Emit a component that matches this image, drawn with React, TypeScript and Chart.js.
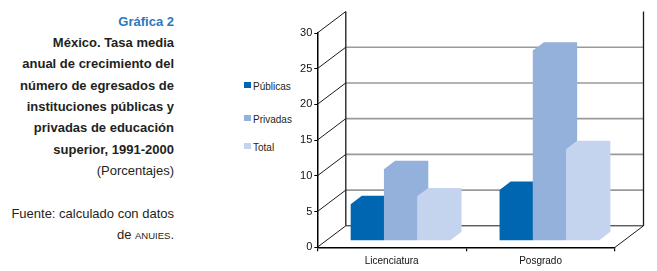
import React, { useEffect, useRef } from 'react';
import { Chart, registerables } from 'chart.js';

Chart.register(...registerables);

// ---- data ----
const categories = ['Licenciatura', 'Posgrado'];
const seriesNames = ['Públicas', 'Privadas', 'Total'];
const publicas = [5.1, 7.1];
const privadas = [10.0, 26.6];
const total = [6.2, 12.8];
const seriesColors = ['#0066B2', '#94B1DB', '#C5D4EE'];
const yMin = 0;
const yMax = 30;
const yStep = 5;

const titleLabel = 'Gráfica 2';
const titleLines = [
  'México. Tasa media',
  'anual de crecimiento del',
  'número de egresados de',
  'instituciones públicas y',
  'privadas de educación',
  'superior, 1991-2000',
];
const unitLine = '(Porcentajes)';
const sourceLine = 'Fuente: calculado con datos';
const sourcePrefix = 'de ';
const sourceOrg = 'ANUIES';
const sourceSuffix = '.';

// ---- styling constants ----
const FONT = "'Liberation Sans', Arial, Helvetica, sans-serif";
const DX = 28.5;
const DY = -21.5;
const BAR_OFF = 0.31;
const BAR_DEPTH = 0.39;

const box3d = {
  id: 'box3d',
  beforeDatasetsDraw(chart: any) {
    const { ctx, chartArea: a, scales } = chart;
    const y = scales.y;
    const L = a.left;
    const R = a.right;
    const y0 = y.getPixelForValue(y.min);
    const yT = y.getPixelForValue(y.max);
    const line = (x1: number, y1: number, x2: number, y2: number) => {
      ctx.beginPath();
      ctx.moveTo(x1, y1);
      ctx.lineTo(x2, y2);
      ctx.stroke();
    };
    ctx.save();
    ctx.lineCap = 'butt';
    // back wall grid lines
    ctx.strokeStyle = '#9a9a9a';
    ctx.lineWidth = 1.6;
    y.ticks.forEach((t: any) => {
      if (t.value > y.min && t.value < y.max) {
        const py = y.getPixelForValue(t.value) + DY;
        line(L + DX, py, R + DX, py);
      }
    });
    // diagonals from front axis to back wall
    ctx.strokeStyle = '#1a1a1a';
    ctx.lineWidth = 1;
    y.ticks.forEach((t: any) => {
      const py = y.getPixelForValue(t.value);
      line(L, py, L + DX, py + DY);
    });
    // floor
    line(L + DX, y0 + DY, R + DX, y0 + DY);
    line(R, y0, R + DX, y0 + DY);
    // back wall verticals
    ctx.lineWidth = 1.3;
    line(L + DX, y0 + DY, L + DX, yT + DY);
    line(R + DX, y0 + DY, R + DX, yT + DY);
    ctx.restore();
  },
  beforeDatasetDraw() {
    return false;
  },
  afterDatasetsDraw(chart: any) {
    const { ctx } = chart;
    const n = chart.data.labels.length;
    const sx = BAR_OFF * DX;
    const sy = BAR_OFF * DY;
    const bx = BAR_DEPTH * DX;
    const by = BAR_DEPTH * DY;
    ctx.save();
    for (let i = 0; i < n; i++) {
      for (let d = 0; d < chart.data.datasets.length; d++) {
        const meta = chart.getDatasetMeta(d);
        const el = meta.data[i];
        if (!el) continue;
        const p = el.getProps(['x', 'y', 'base', 'width'], true);
        const l = p.x - p.width / 2 + sx;
        const r = p.x + p.width / 2 + sx;
        const t = p.y + sy;
        const b = p.base + sy;
        ctx.beginPath();
        ctx.moveTo(l, b);
        ctx.lineTo(l, t);
        ctx.lineTo(l + bx, t + by);
        ctx.lineTo(r + bx, t + by);
        ctx.lineTo(r + bx, b + by);
        ctx.lineTo(r, b);
        ctx.closePath();
        ctx.fillStyle = chart.data.datasets[d].backgroundColor;
        ctx.fill();
      }
    }
    ctx.restore();
  },
};

const textDark = '#231F20';
const titleBlue = '#2A79BD';

export default function App() {
  const ref = useRef<HTMLCanvasElement | null>(null);

  useEffect(() => {
    if (!ref.current) return;
    const values = [publicas, privadas, total];
    const chart = new Chart(ref.current, {
      type: 'bar',
      data: {
        labels: categories,
        datasets: seriesNames.map((name, i) => ({
          label: name,
          data: values[i],
          backgroundColor: seriesColors[i],
          barPercentage: 1,
          categoryPercentage: 0.67,
        })),
      },
      options: {
        animation: false,
        responsive: false,
        devicePixelRatio: 1,
        layout: { padding: { left: 97.3, right: 42, top: 33, bottom: 0 } },
        plugins: { legend: { display: false }, tooltip: { enabled: false } },
        scales: {
          x: {
            offset: true,
            grid: {
              offset: true,
              drawOnChartArea: false,
              drawTicks: true,
              tickLength: 4,
              color: '#000',
              tickColor: '#000',
              lineWidth: 1.2,
            },
            border: { display: true, color: '#000', width: 1.5 },
            ticks: { color: '#111', padding: 4, font: { family: FONT, size: 10 } },
            afterFit: (s: any) => {
              s.height = 23.7;
            },
          },
          y: {
            min: yMin,
            max: yMax,
            grid: {
              drawOnChartArea: false,
              drawTicks: true,
              tickLength: 3,
              color: '#000',
              tickColor: '#000',
              lineWidth: 1,
            },
            border: { display: true, color: '#000', width: 1.5 },
            ticks: { stepSize: yStep, color: '#111', padding: 2, font: { family: FONT, size: 11 } },
            afterFit: (s: any) => {
              s.width = 30;
            },
          },
        },
      },
      plugins: [box3d],
    });
    return () => chart.destroy();
  }, []);

  const boldBaselines = [47.3, 68.7, 90, 111.3, 132.7, 154];
  const lineStyle = (baseline: number, bold: boolean, color: string): React.CSSProperties => ({
    position: 'absolute',
    left: 0,
    width: 174,
    top: baseline - 12.5,
    height: 16,
    lineHeight: '16px',
    textAlign: 'right',
    fontFamily: FONT,
    fontSize: 13,
    fontWeight: bold ? 700 : 400,
    color,
    whiteSpace: 'nowrap',
  });
  const legendTops = [82, 115, 143];

  return (
    <div
      style={{
        position: 'fixed',
        left: 0,
        top: 0,
        width: 657,
        height: 271,
        background: '#fff',
        overflow: 'hidden',
      }}
    >
      <div style={lineStyle(26, true, titleBlue)}>{titleLabel}</div>
      {titleLines.map((t, i) => (
        <div key={i} style={lineStyle(boldBaselines[i], true, textDark)}>
          {t}
        </div>
      ))}
      <div style={lineStyle(175.3, false, textDark)}>{unitLine}</div>
      <div style={lineStyle(218.3, false, textDark)}>{sourceLine}</div>
      <div style={lineStyle(239.3, false, textDark)}>
        {sourcePrefix}
        <span style={{ fontSize: 9.5 }}>{sourceOrg}</span>
        {sourceSuffix}
      </div>

      {seriesNames.map((name, i) => (
        <React.Fragment key={name}>
          <div
            style={{
              position: 'absolute',
              left: 244,
              top: legendTops[i],
              width: 7,
              height: 6,
              background: seriesColors[i],
            }}
          />
          <div
            style={{
              position: 'absolute',
              left: 253,
              top: legendTops[i] - 1,
              lineHeight: '12px',
              fontFamily: FONT,
              fontSize: 10,
              color: textDark,
              whiteSpace: 'nowrap',
            }}
          >
            {name}
          </div>
        </React.Fragment>
      ))}

      <canvas
        ref={ref}
        width={467}
        height={271}
        style={{ position: 'absolute', left: 190, top: 0, width: 467, height: 271 }}
      />
    </div>
  );
}
